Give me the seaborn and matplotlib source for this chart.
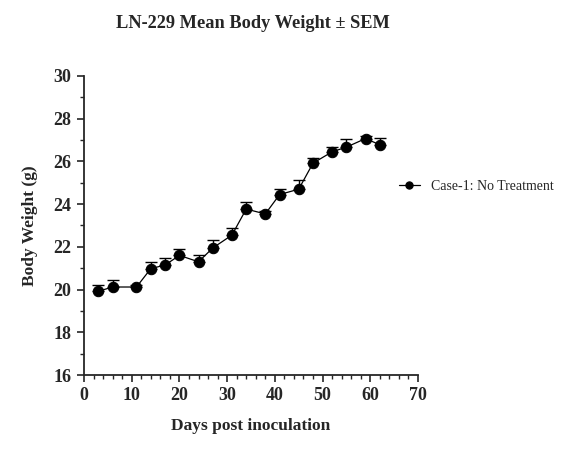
import matplotlib
matplotlib.use("Agg")
import matplotlib.pyplot as plt
from matplotlib.ticker import MultipleLocator
import seaborn as sns
import pandas as pd
import numpy as np

days = [3, 6, 11, 14, 17, 20, 24, 27, 31, 34, 38, 41, 45, 48, 52, 55, 59, 62]
weight = [19.92, 20.12, 20.12, 20.98, 21.15, 21.6, 21.3, 21.95, 22.55, 23.77, 23.54,
          24.45, 24.7, 25.92, 26.45, 26.67, 27.07, 26.78]
sem = [0.3, 0.31, 0.1, 0.31, 0.35, 0.3, 0.33, 0.37, 0.31, 0.33, 0.12,
       0.24, 0.45, 0.25, 0.23, 0.37, 0.1, 0.31]
series_name = "Case-1: No Treatment"

df = pd.DataFrame({"Day": days, "Weight": weight, "Group": series_name})

sns.set_style("ticks")
plt.rcParams["font.family"] = ["Liberation Serif", "DejaVu Serif"]

fig = plt.figure(figsize=(5.68, 4.69), dpi=100)
ax = fig.add_axes([84 / 568, 1 - 375 / 469, (418 - 84) / 568, (375 - 76) / 469])

ax.errorbar(days, weight, yerr=[np.zeros(len(sem)), sem], fmt="none",
            ecolor="black", elinewidth=1.0, capsize=4, capthick=1.0, zorder=2)
sns.lineplot(data=df, x="Day", y="Weight", hue="Group", palette=["black"],
             marker="o", markersize=7.5, markeredgecolor="black", linewidth=0.9,
             ax=ax, zorder=3)

ax.set_xlim(0, 70)
ax.set_ylim(16, 30)
ax.xaxis.set_major_locator(MultipleLocator(10))
ax.xaxis.set_minor_locator(MultipleLocator(2))
ax.yaxis.set_major_locator(MultipleLocator(2))
ax.yaxis.set_minor_locator(MultipleLocator(1))
ax.tick_params(which="major", length=5, width=1.2, labelsize=13, pad=4)
ax.tick_params(which="minor", length=3, width=1.0)
for lab in ax.get_xticklabels() + ax.get_yticklabels():
    lab.set_fontweight("bold")
for s in ["left", "bottom"]:
    ax.spines[s].set_linewidth(1.3)
sns.despine(ax=ax)

ax.set_xlabel("Days post inoculation", fontsize=12.5, fontweight="bold", labelpad=10)
ax.set_ylabel("Body Weight (g)", fontsize=12.5, fontweight="bold", labelpad=11)
fig.text(253 / 568, 1 - 23 / 469, "LN-229 Mean Body Weight ± SEM", ha="center",
         va="center", fontsize=13.2, fontweight="bold")

leg = ax.legend(loc="center left", bbox_to_anchor=(0.905, 0.63), frameon=False,
                fontsize=10, handlelength=1.5, markerscale=0.7)

fig.savefig("out.png", dpi=100)
